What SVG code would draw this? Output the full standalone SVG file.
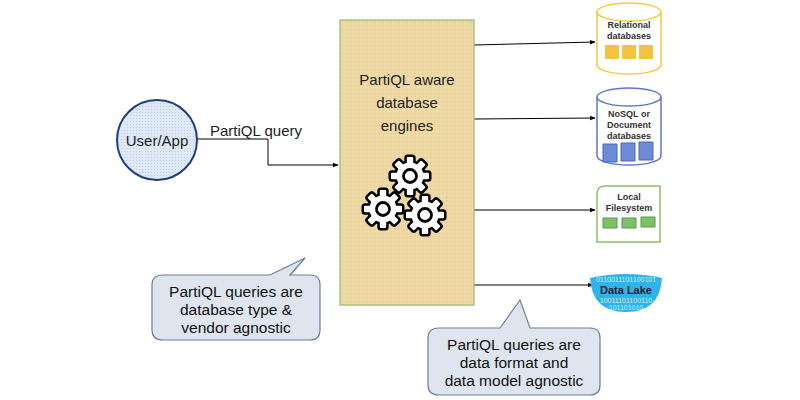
<svg xmlns="http://www.w3.org/2000/svg" width="800" height="400" viewBox="0 0 800 400">
<defs>
<marker id="ah" viewBox="0 0 10 10" refX="9" refY="5" markerWidth="6" markerHeight="6" orient="auto"><path d="M0,1 L10,5 L0,9 z" fill="#000"/></marker>
<pattern id="tex" width="4" height="4" patternUnits="userSpaceOnUse"><rect width="4" height="4" fill="#efd9a6"/><path d="M0,0h4M0,2h4" stroke="#e2c88c" stroke-width="0.6"/><path d="M1,0v4" stroke="#f5e6c0" stroke-width="0.5"/></pattern>
<pattern id="dots" width="3" height="3" patternUnits="userSpaceOnUse"><rect width="3" height="3" fill="#dfe9f7"/><circle cx="1.5" cy="1.5" r="0.6" fill="#b9cde8"/></pattern>
<g id="gshape">
<circle r="13.5"/>
<rect x="10" y="-3.2" width="9" height="6.4" rx="1"/>
<rect x="10" y="-3.2" width="9" height="6.4" rx="1" transform="rotate(45)"/>
<rect x="10" y="-3.2" width="9" height="6.4" rx="1" transform="rotate(90)"/>
<rect x="10" y="-3.2" width="9" height="6.4" rx="1" transform="rotate(135)"/>
<rect x="10" y="-3.2" width="9" height="6.4" rx="1" transform="rotate(180)"/>
<rect x="10" y="-3.2" width="9" height="6.4" rx="1" transform="rotate(225)"/>
<rect x="10" y="-3.2" width="9" height="6.4" rx="1" transform="rotate(270)"/>
<rect x="10" y="-3.2" width="9" height="6.4" rx="1" transform="rotate(315)"/>
</g>
<g id="gear">
<use href="#gshape" fill="#000" stroke="#000" stroke-width="5" stroke-linejoin="round"/>
<use href="#gshape" fill="#fff" stroke="none"/>
<circle r="6.5" fill="#fff" stroke="#000" stroke-width="2.8"/>
</g>
</defs>
<style>
text{font-family:"Liberation Sans",Arial,sans-serif}
.lbl{font-size:15px;fill:#222}
.small{font-size:9px;font-weight:bold;fill:#333;text-anchor:middle}
.call{font-size:15.5px;fill:#111}
.conn{fill:none;stroke:#000;stroke-width:1}
.bin{font-size:7px;fill:#d4f1fd;text-anchor:middle}
</style>
<rect width="800" height="400" fill="#fff"/>
<g id="connectors">
<path class="conn" d="M197,139 H268 V165 H338" stroke-width="1.5" marker-end="url(#ah)"/>
<path class="conn" d="M474,45 L595,42" marker-end="url(#ah)"/>
<path class="conn" d="M474,119 L595,118" marker-end="url(#ah)"/>
<path class="conn" d="M474,210 L595,210" marker-end="url(#ah)"/>
<path class="conn" d="M474,285 L593,285" marker-end="url(#ah)"/>
<text x="210" y="136" class="lbl" font-size="14">PartiQL query</text>
</g>
<g id="user">
<circle cx="157" cy="140" r="40" fill="url(#dots)" stroke="#1f3f7a" stroke-width="2"/>
<text x="157" y="146" class="lbl" font-size="16" text-anchor="middle">User/App</text>
</g>
<g id="engine">
<rect x="340" y="20" width="134" height="285" fill="url(#tex)" stroke="#a7c47f" stroke-width="1.5"/>
<text x="407" y="85" class="lbl" font-size="17" text-anchor="middle">PartiQL aware</text>
<text x="407" y="108" class="lbl" font-size="17" text-anchor="middle">database</text>
<text x="407" y="131" class="lbl" font-size="17" text-anchor="middle">engines</text>
<use href="#gear" x="410" y="176"/>
<use href="#gear" x="383" y="209"/>
<use href="#gear" x="425" y="215"/>
</g>
<g id="relational">
<path d="M597,12 V65 A32,9 0 0 0 661,65 V12" fill="#fff" stroke="#f5c842" stroke-width="1.5"/>
<ellipse cx="629" cy="12" rx="32" ry="9" fill="#fff" stroke="#f5c842" stroke-width="1.5"/>
<text x="629" y="28" class="small">Relational</text>
<text x="629" y="39" class="small">databases</text>
<rect x="605" y="45" width="14" height="14" fill="#f5c242"/>
<rect x="622" y="45" width="14" height="14" fill="#f5c242"/>
<rect x="639" y="45" width="14" height="14" fill="#f5c242"/>
</g>
<g id="nosql">
<path d="M597,97 V156 A32,9 0 0 0 661,156 V97" fill="#fff" stroke="#5a78c8" stroke-width="1.5"/>
<ellipse cx="629" cy="97" rx="32" ry="9" fill="#fff" stroke="#5a78c8" stroke-width="1.5"/>
<text x="629" y="117" class="small">NoSQL or</text>
<text x="629" y="128" class="small">Document</text>
<text x="629" y="139" class="small">databases</text>
<path d="M603,144 h14 v18 h-14 z" fill="#6d8bd8" stroke="#4a66b4"/>
<path d="M621,143 h14 v18 h-14 z" fill="#6d8bd8" stroke="#4a66b4"/>
<path d="M639,142 h14 v18 h-14 z" fill="#6d8bd8" stroke="#4a66b4"/>
</g>
<g id="localfs">
<path d="M605,186 H660 V242 H597 V194 Q597,186 605,186 z" fill="#fff" stroke="#8cc06a" stroke-width="1.5"/>
<text x="629" y="200" class="small">Local</text>
<text x="629" y="211" class="small">Filesystem</text>
<rect x="603" y="218" width="14" height="10" fill="#7cc06a" stroke="#5b9a4a"/>
<rect x="622" y="218" width="14" height="10" fill="#7cc06a" stroke="#5b9a4a"/>
<rect x="641" y="217" width="14" height="10" fill="#7cc06a" stroke="#5b9a4a"/>
</g>
<g id="datalake">
<path d="M590,278 Q626,270 662,278 Q660,312 626,312 Q592,312 590,278 z" fill="#2eb3ea"/>
<text x="626" y="282" class="bin">0110011101100101</text>
<text x="626" y="303" class="bin">10011101100110</text>
<text x="626" y="310" class="bin" font-size="6">101101010</text>
<text x="626" y="294" font-size="11" font-weight="bold" fill="#123" text-anchor="middle">Data Lake</text>
</g>
<g id="callout1">
<path d="M163,275 H270 L305,258 L290,275 H310 Q320,275 320,285 V330 Q320,340 310,340 H163 Q152,340 152,330 V285 Q152,275 163,275 z" fill="#dfe5ee" stroke="#6c7f99" stroke-width="1.2"/>
<text x="236" y="297" class="call" text-anchor="middle">PartiQL queries are</text>
<text x="236" y="315" class="call" text-anchor="middle">database type &amp;</text>
<text x="236" y="333" class="call" text-anchor="middle">vendor agnostic</text>
</g>
<g id="callout2">
<path d="M439,328 H500 L520,300 L530,328 H590 Q600,328 600,338 V385 Q600,395 590,395 H439 Q428,395 428,385 V338 Q428,328 439,328 z" fill="#dfe5ee" stroke="#6c7f99" stroke-width="1.2"/>
<text x="514" y="350" class="call" text-anchor="middle">PartiQL queries are</text>
<text x="514" y="368" class="call" text-anchor="middle">data format and</text>
<text x="514" y="386" class="call" text-anchor="middle">data model agnostic</text>
</g>
</svg>
